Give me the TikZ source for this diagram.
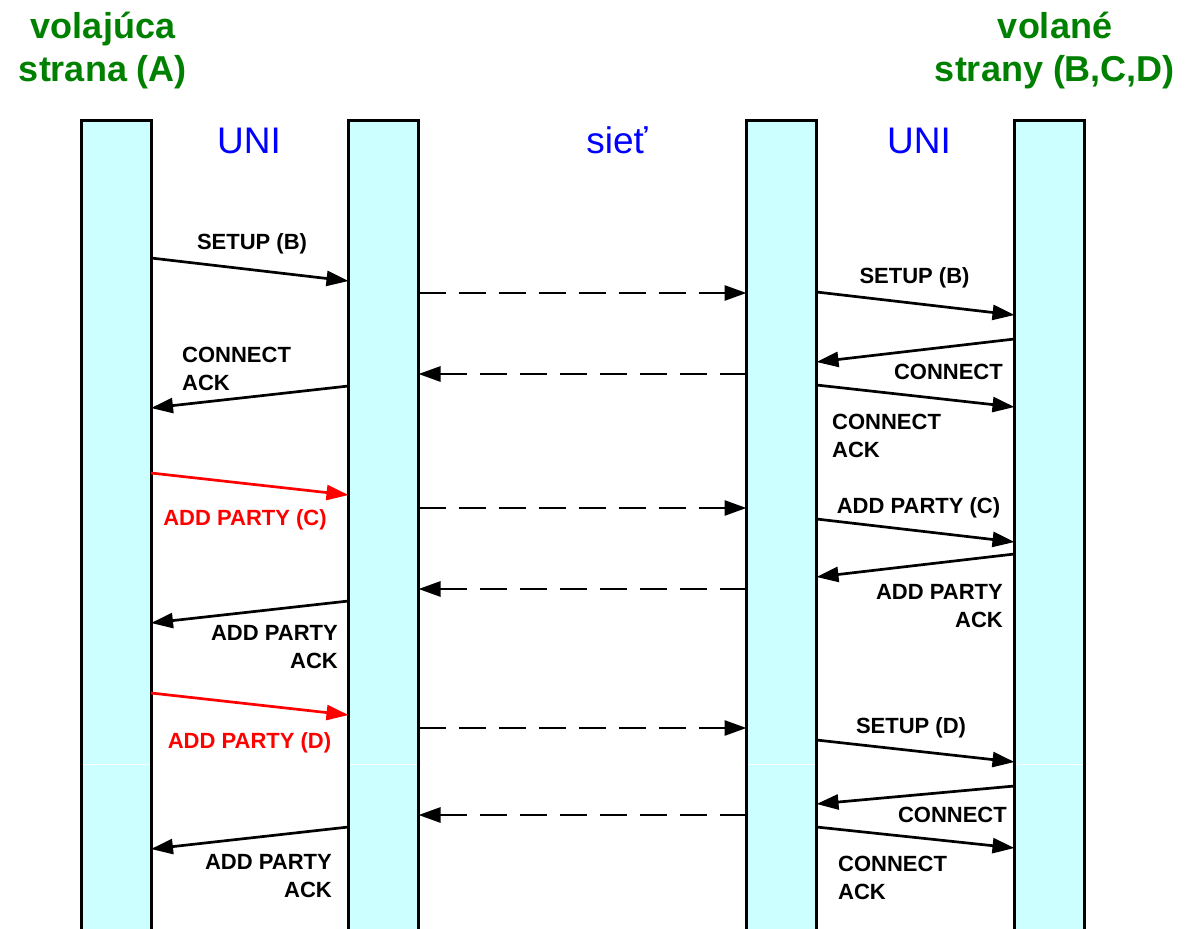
\documentclass[tikz,border=0pt]{standalone}
\usepackage{fontspec}
\setmainfont{Liberation Sans}
\usetikzlibrary{arrows.meta}
\definecolor{barfill}{RGB}{204,255,255}
\definecolor{titlegreen}{RGB}{0,128,0}
\definecolor{netblue}{RGB}{0,0,255}
\tikzset{
  bar/.style={rectangle,fill=barfill,inner sep=0pt,outer sep=0pt,minimum width=70pt,minimum height=809pt,anchor=north},
  baredge/.style={line width=3pt,line join=miter},
  msg/.style={line width=2.7pt,-{Triangle[length=22pt,width=15pt]}},
  redmsg/.style={msg,red},
  netmsg/.style={msg,dash pattern=on 27pt off 13pt},
  lbl/.style={font=\fontsize{22}{27.5}\selectfont\bfseries,inner sep=0pt},
  redlbl/.style={lbl,text=red},
  title/.style={font=\fontsize{36}{43}\selectfont\bfseries,text=titlegreen,align=center,inner sep=0pt,anchor=base},
  head/.style={font=\fontsize{37}{44}\selectfont,text=netblue,inner sep=0pt,anchor=base},
}
\begin{document}
\begin{tikzpicture}[x=1pt,y=-1pt]
\useasboundingbox[fill=white] (0,0) rectangle (1189,929);
% bars
\node[bar] (b1) at (116,120) {};
\node[bar] (b2) at (383.5,120) {};
\node[bar] (b3) at (781.5,120) {};
\node[bar] (b4) at (1049.5,120) {};
\foreach \b in {b1,b2,b3,b4}{
  \draw[white,line width=1pt] (\b.west |- 0,764) -- (\b.east |- 0,764);
  \draw[baredge] (\b.south west) -- (\b.north west) -- (\b.north east) -- (\b.south east);
}
% titles (base anchor = last line's baseline)
\node[title] (tA) at (103,81) {volajúca\\strana (A)};
\node[title] (tB) at (1055,81) {volané\\strany (B,C,D)};
\node[head] (uni1) at (249,153) {UNI};
\node[head] (net) at (617,153) {sieť};
\node[head] (uni2) at (919,153) {UNI};
% messages: setup B
\draw[msg] (b1.east |- 0,258) -- (b2.west |- 0,281);
\node[lbl,anchor=base] (l1) at (252,249) {SETUP (B)};
\draw[netmsg] (b2.east |- 0,293) -- (b3.west |- 0,293);
\draw[msg] (b3.east |- 0,292) -- (b4.west |- 0,315);
\node[lbl,anchor=base] (l2) at (914.5,283) {SETUP (B)};
\draw[msg] (b4.west |- 0,339) -- (b3.east |- 0,362);
\node[lbl,anchor=base east] (l3) at (1003,379) {CONNECT};
\draw[netmsg] (b3.west |- 0,374) -- (b2.east |- 0,374);
\draw[msg] (b2.west |- 0,386) -- (b1.east |- 0,408);
\node[lbl,anchor=base west,align=left] (l4) at (182,390) {CONNECT\\ACK};
\draw[msg] (b3.east |- 0,385) -- (b4.west |- 0,407);
\node[lbl,anchor=base west,align=left] (l5) at (832,457) {CONNECT\\ACK};
% add party C
\draw[redmsg] (b1.east |- 0,473) -- (b2.west |- 0,495);
\node[redlbl,anchor=base] (l6) at (245,525) {ADD PARTY (C)};
\draw[netmsg] (b2.east |- 0,508) -- (b3.west |- 0,508);
\draw[msg] (b3.east |- 0,519) -- (b4.west |- 0,542);
\node[lbl,anchor=base] (l7) at (918.5,513) {ADD PARTY (C)};
\draw[msg] (b4.west |- 0,554) -- (b3.east |- 0,577);
\node[lbl,anchor=base east,align=right] (l8) at (1003,627) {ADD PARTY\\ACK};
\draw[netmsg] (b3.west |- 0,589) -- (b2.east |- 0,589);
\draw[msg] (b2.west |- 0,601) -- (b1.east |- 0,623);
\node[lbl,anchor=base east,align=right] (l9) at (338,668) {ADD PARTY\\ACK};
% add party D
\draw[redmsg] (b1.east |- 0,693) -- (b2.west |- 0,715);
\node[redlbl,anchor=base] (l10) at (249.5,748) {ADD PARTY (D)};
\draw[netmsg] (b2.east |- 0,728) -- (b3.west |- 0,728);
\draw[msg] (b3.east |- 0,740) -- (b4.west |- 0,762);
\node[lbl,anchor=base] (l11) at (911,733) {SETUP (D)};
\draw[msg] (b4.west |- 0,786) -- (b3.east |- 0,804);
\node[lbl,anchor=base east] (l12) at (1007,822) {CONNECT};
\draw[netmsg] (b3.west |- 0,815) -- (b2.east |- 0,815);
\draw[msg] (b3.east |- 0,827) -- (b4.west |- 0,848);
\node[lbl,anchor=base west,align=left] (l13) at (838,899) {CONNECT\\ACK};
\draw[msg] (b2.west |- 0,827) -- (b1.east |- 0,849);
\node[lbl,anchor=base east,align=right] (l14) at (332,897) {ADD PARTY\\ACK};
\end{tikzpicture}
\end{document}
